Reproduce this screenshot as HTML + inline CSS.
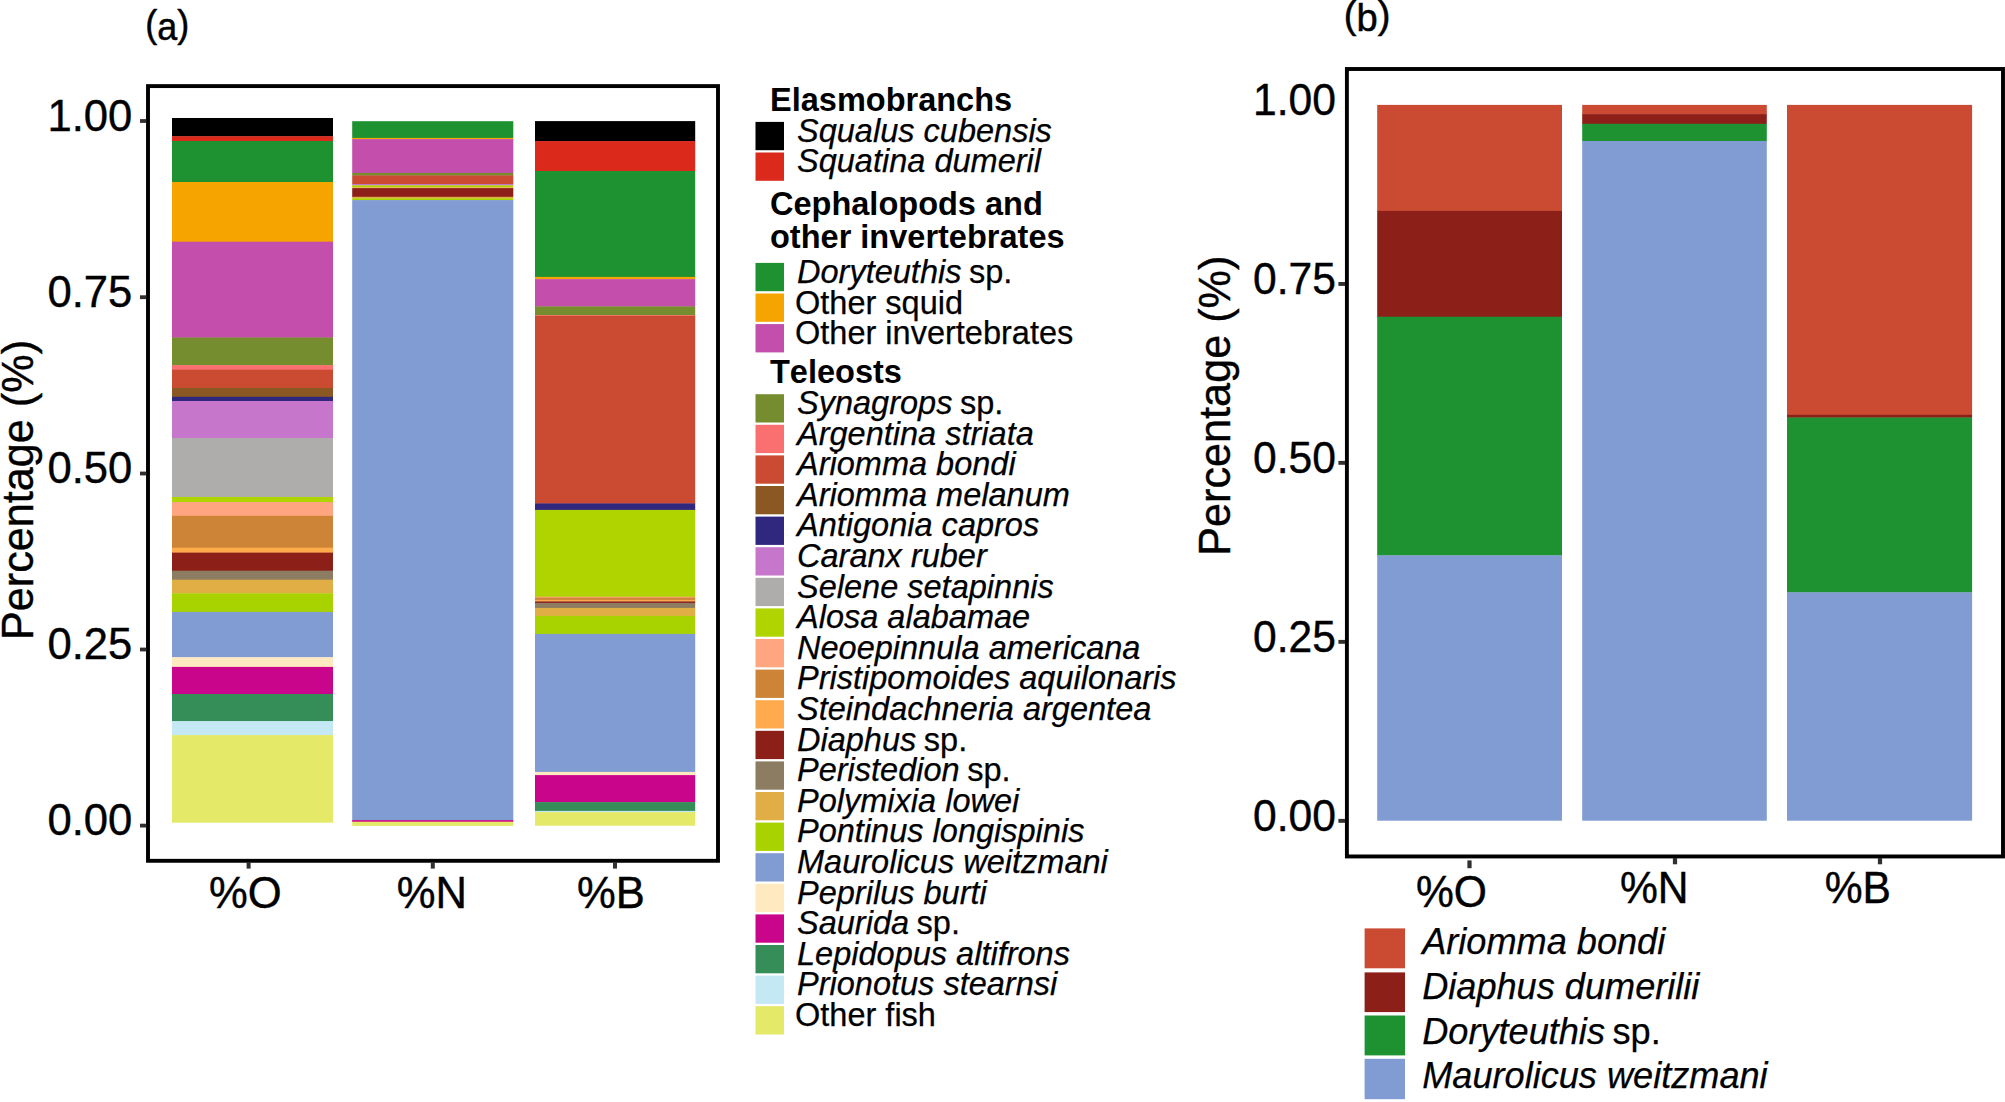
<!DOCTYPE html>
<html lang="en">
<head>
<meta charset="utf-8">
<title>Diet composition</title>
<style>
html,body{margin:0;padding:0;background:#fff;}
body{width:2005px;height:1102px;overflow:hidden;}
svg{display:block;}
svg text{font-family:"Liberation Sans",sans-serif;fill:#000;font-kerning:none;font-variant-ligatures:none;}
.ax text{stroke:#000;stroke-width:0.4px;}
.lg text{stroke:#000;stroke-width:0.25px;}
.lg text.hd{stroke:none;}
</style>
</head>
<body>
<svg width="2005" height="1102" viewBox="0 0 2005 1102" shape-rendering="auto">
<rect x="0" y="0" width="2005" height="1102" fill="#ffffff"/>
<g id="bars">
<rect x="172.0" y="118.0" width="161.0" height="18.55" fill="#000000"/>
<rect x="172.0" y="136.2" width="161.0" height="5.15" fill="#DB2A1C"/>
<rect x="172.0" y="141.0" width="161.0" height="41.35" fill="#1E9131"/>
<rect x="172.0" y="182.0" width="161.0" height="60.05" fill="#F5A400"/>
<rect x="172.0" y="241.7" width="161.0" height="96.15" fill="#C44EAB"/>
<rect x="172.0" y="337.5" width="161.0" height="27.95" fill="#758C2F"/>
<rect x="172.0" y="365.1" width="161.0" height="4.95" fill="#FA7070"/>
<rect x="172.0" y="369.7" width="161.0" height="18.55" fill="#CB4B32"/>
<rect x="172.0" y="387.9" width="161.0" height="9.25" fill="#8B5823"/>
<rect x="172.0" y="396.8" width="161.0" height="4.55" fill="#30277F"/>
<rect x="172.0" y="401.0" width="161.0" height="37.35" fill="#C777CB"/>
<rect x="172.0" y="438.0" width="161.0" height="59.35" fill="#AEADAB"/>
<rect x="172.0" y="497.0" width="161.0" height="5.35" fill="#AFD400"/>
<rect x="172.0" y="502.0" width="161.0" height="14.15" fill="#FFA680"/>
<rect x="172.0" y="515.8" width="161.0" height="32.25" fill="#CD8436"/>
<rect x="172.0" y="547.7" width="161.0" height="5.25" fill="#FFAB4D"/>
<rect x="172.0" y="552.6" width="161.0" height="18.45" fill="#8C2019"/>
<rect x="172.0" y="570.7" width="161.0" height="9.35" fill="#8C7D62"/>
<rect x="172.0" y="579.7" width="161.0" height="13.95" fill="#E0AE44"/>
<rect x="172.0" y="593.3" width="161.0" height="18.95" fill="#A9D300"/>
<rect x="172.0" y="611.9" width="161.0" height="45.65" fill="#809CD3"/>
<rect x="172.0" y="657.2" width="161.0" height="10.05" fill="#FFE9C1"/>
<rect x="172.0" y="666.9" width="161.0" height="27.45" fill="#C9058B"/>
<rect x="172.0" y="694.0" width="161.0" height="27.45" fill="#358E57"/>
<rect x="172.0" y="721.1" width="161.0" height="14.35" fill="#C4E8F4"/>
<rect x="172.0" y="735.1" width="161.0" height="87.60" fill="#E4E967"/>
<rect x="352.2" y="121.2" width="161.1" height="17.05" fill="#1E9131"/>
<rect x="352.2" y="137.9" width="161.1" height="1.55" fill="#F5A400"/>
<rect x="352.2" y="139.1" width="161.1" height="34.15" fill="#C44EAB"/>
<rect x="352.2" y="172.9" width="161.1" height="2.85" fill="#758C2F"/>
<rect x="352.2" y="175.4" width="161.1" height="8.95" fill="#CB4B32"/>
<rect x="352.2" y="184.0" width="161.1" height="1.65" fill="#C777CB"/>
<rect x="352.2" y="185.3" width="161.1" height="2.35" fill="#AFD400"/>
<rect x="352.2" y="187.3" width="161.1" height="1.15" fill="#FFAB4D"/>
<rect x="352.2" y="188.1" width="161.1" height="9.05" fill="#8C2019"/>
<rect x="352.2" y="196.8" width="161.1" height="1.85" fill="#E0AE44"/>
<rect x="352.2" y="198.3" width="161.1" height="2.15" fill="#A9D300"/>
<rect x="352.2" y="200.1" width="161.1" height="620.35" fill="#809CD3"/>
<rect x="352.2" y="820.1" width="161.1" height="1.95" fill="#C9058B"/>
<rect x="352.2" y="821.7" width="161.1" height="4.20" fill="#E4E967"/>
<rect x="535.0" y="121.1" width="160.2" height="20.35" fill="#000000"/>
<rect x="535.0" y="141.1" width="160.2" height="30.25" fill="#DB2A1C"/>
<rect x="535.0" y="171.0" width="160.2" height="106.25" fill="#1E9131"/>
<rect x="535.0" y="276.9" width="160.2" height="2.55" fill="#F5A400"/>
<rect x="535.0" y="279.1" width="160.2" height="27.65" fill="#C44EAB"/>
<rect x="535.0" y="306.4" width="160.2" height="9.05" fill="#758C2F"/>
<rect x="535.0" y="315.1" width="160.2" height="1.15" fill="#FA7070"/>
<rect x="535.0" y="315.9" width="160.2" height="187.85" fill="#CB4B32"/>
<rect x="535.0" y="503.4" width="160.2" height="6.85" fill="#30277F"/>
<rect x="535.0" y="509.9" width="160.2" height="87.15" fill="#AFD400"/>
<rect x="535.0" y="596.7" width="160.2" height="1.35" fill="#FFA680"/>
<rect x="535.0" y="597.7" width="160.2" height="2.55" fill="#CD8436"/>
<rect x="535.0" y="599.9" width="160.2" height="1.85" fill="#FFAB4D"/>
<rect x="535.0" y="601.4" width="160.2" height="1.85" fill="#8C2019"/>
<rect x="535.0" y="602.9" width="160.2" height="5.35" fill="#8C7D62"/>
<rect x="535.0" y="607.9" width="160.2" height="8.35" fill="#E0AE44"/>
<rect x="535.0" y="615.9" width="160.2" height="18.35" fill="#A9D300"/>
<rect x="535.0" y="633.9" width="160.2" height="138.35" fill="#809CD3"/>
<rect x="535.0" y="771.9" width="160.2" height="3.55" fill="#FFE9C1"/>
<rect x="535.0" y="775.1" width="160.2" height="27.35" fill="#C9058B"/>
<rect x="535.0" y="802.1" width="160.2" height="9.15" fill="#358E57"/>
<rect x="535.0" y="810.9" width="160.2" height="1.55" fill="#C4E8F4"/>
<rect x="535.0" y="812.1" width="160.2" height="13.60" fill="#E4E967"/>
<rect x="1377.2" y="104.9" width="184.8" height="106.35" fill="#CB4B32"/>
<rect x="1377.2" y="210.9" width="184.8" height="106.15" fill="#8C2019"/>
<rect x="1377.2" y="316.7" width="184.8" height="238.95" fill="#1E9131"/>
<rect x="1377.2" y="555.3" width="184.8" height="265.40" fill="#809CD3"/>
<rect x="1582.2" y="104.9" width="184.6" height="9.55" fill="#CB4B32"/>
<rect x="1582.2" y="114.1" width="184.6" height="10.05" fill="#8C2019"/>
<rect x="1582.2" y="123.8" width="184.6" height="17.55" fill="#1E9131"/>
<rect x="1582.2" y="141.0" width="184.6" height="679.70" fill="#809CD3"/>
<rect x="1787.0" y="104.9" width="185.1" height="310.25" fill="#CB4B32"/>
<rect x="1787.0" y="414.8" width="185.1" height="3.05" fill="#8C2019"/>
<rect x="1787.0" y="417.5" width="185.1" height="175.15" fill="#1E9131"/>
<rect x="1787.0" y="592.3" width="185.1" height="228.40" fill="#809CD3"/>
</g>
<g id="axes" class="ax">
<rect x="148" y="86.1" width="570" height="774.7" fill="none" stroke="#000" stroke-width="3.9"/>
<rect x="140" y="119.1" width="6.2" height="3.8" fill="#332f2d"/>
<text transform="translate(132.3,130.8) scale(1,1.01)" font-size="43.6" text-anchor="end">1.00</text>
<rect x="140" y="295.3" width="6.2" height="3.8" fill="#332f2d"/>
<text transform="translate(132.3,307.0) scale(1,1.01)" font-size="43.6" text-anchor="end">0.75</text>
<rect x="140" y="471.6" width="6.2" height="3.8" fill="#332f2d"/>
<text transform="translate(132.3,483.3) scale(1,1.01)" font-size="43.6" text-anchor="end">0.50</text>
<rect x="140" y="647.6" width="6.2" height="3.8" fill="#332f2d"/>
<text transform="translate(132.3,659.3) scale(1,1.01)" font-size="43.6" text-anchor="end">0.25</text>
<rect x="140" y="823.7" width="6.2" height="3.8" fill="#332f2d"/>
<text transform="translate(132.3,835.4) scale(1,1.01)" font-size="43.6" text-anchor="end">0.00</text>
<rect x="246.6" y="862" width="4" height="6.6" fill="#332f2d"/>
<text transform="translate(245.2,908.4) scale(1,1.02)" font-size="43.6" text-anchor="middle">%O</text>
<rect x="430.8" y="862" width="4" height="6.6" fill="#332f2d"/>
<text transform="translate(431.8,908.4) scale(1,1.02)" font-size="43.6" text-anchor="middle">%N</text>
<rect x="613.0" y="862" width="4" height="6.6" fill="#332f2d"/>
<text transform="translate(611.0,908.4) scale(1,1.02)" font-size="43.6" text-anchor="middle">%B</text>
<text transform="translate(33,490) rotate(-90) scale(1,1.04)" font-size="43.2" text-anchor="middle">Percentage (%)</text>
<text transform="translate(145.2,39.8) scale(0.91,1)" font-size="39.5" style="stroke-width:0.5px"><tspan dy="-3">(</tspan><tspan dy="3">a</tspan><tspan dy="-3">)</tspan></text>
<rect x="1346.9" y="69" width="656.1" height="787.45" fill="none" stroke="#000" stroke-width="3.9"/>
<text transform="translate(1336.0,114.8) scale(1,1.04)" font-size="42.6" text-anchor="end">1.00</text>
<rect x="1338.4" y="282.0" width="6.8" height="3.9" fill="#332f2d"/>
<text transform="translate(1336.0,293.7) scale(1,1.04)" font-size="42.6" text-anchor="end">0.75</text>
<rect x="1338.4" y="460.9" width="6.8" height="3.9" fill="#332f2d"/>
<text transform="translate(1336.0,472.6) scale(1,1.04)" font-size="42.6" text-anchor="end">0.50</text>
<rect x="1338.4" y="639.9" width="6.8" height="3.9" fill="#332f2d"/>
<text transform="translate(1336.0,651.6) scale(1,1.04)" font-size="42.6" text-anchor="end">0.25</text>
<rect x="1338.4" y="818.9" width="6.8" height="3.9" fill="#332f2d"/>
<text transform="translate(1336.0,830.6) scale(1,1.04)" font-size="42.6" text-anchor="end">0.00</text>
<rect x="1467.4" y="860.4" width="4.2" height="7.8" fill="#332f2d"/>
<text transform="translate(1451.3999999999999,906.9) scale(1,1.03)" font-size="42.6" text-anchor="middle">%O</text>
<rect x="1672.9" y="858" width="4.2" height="6.3" fill="#332f2d"/>
<text transform="translate(1654.3,903.2) scale(1,1.03)" font-size="42.6" text-anchor="middle">%N</text>
<rect x="1877.9" y="858" width="4.2" height="6.3" fill="#332f2d"/>
<text transform="translate(1857.8,903.2) scale(1,1.03)" font-size="42.6" text-anchor="middle">%B</text>
<text transform="translate(1230.4,405.7) rotate(-90) scale(1,1.04)" font-size="43.2" text-anchor="middle">Percentage (%)</text>
<text transform="translate(1343.8,31) scale(0.965,1)" font-size="39.5" style="stroke-width:0.5px"><tspan dy="-3">(</tspan><tspan dy="3">b</tspan><tspan dy="-3">)</tspan></text>
</g>
<g id="legend-a" class="lg">
<text x="770.0" y="110.8" font-size="32.52" font-weight="bold" class="hd">Elasmobranchs</text>
<rect x="755.5" y="121.9" width="28.5" height="28.3" fill="#000000"/>
<text x="797.0" y="142.0" font-size="32.52" font-style="italic">Squalus cubensis</text>
<rect x="755.5" y="152.5" width="28.5" height="28.3" fill="#DB2A1C"/>
<text x="797.0" y="172.4" font-size="32.52" font-style="italic">Squatina dumeril</text>
<text x="770.0" y="214.6" font-size="32.52" font-weight="bold" class="hd">Cephalopods and</text>
<text x="770.0" y="248.1" font-size="32.52" font-weight="bold" class="hd">other invertebrates</text>
<rect x="755.5" y="262.9" width="28.5" height="28.3" fill="#1E9131"/>
<text x="797.0" y="283.0" font-size="32.52"><tspan font-style="italic">Doryteuthis</tspan><tspan dx="-1.5"> sp.</tspan></text>
<rect x="755.5" y="293.5" width="28.5" height="28.3" fill="#F5A400"/>
<text x="795.0" y="313.6" font-size="32.52">Other squid</text>
<rect x="755.5" y="324.1" width="28.5" height="28.3" fill="#C44EAB"/>
<text x="795.0" y="344.2" font-size="32.52">Other invertebrates</text>
<text x="770.0" y="383.0" font-size="32.52" font-weight="bold" class="hd">Teleosts</text>
<rect x="755.5" y="394.2" width="28.5" height="28.3" fill="#758C2F"/>
<text x="797.0" y="413.9" font-size="32.52"><tspan font-style="italic">Synagrops</tspan><tspan dx="-1.5"> sp.</tspan></text>
<rect x="755.5" y="424.8" width="28.5" height="28.3" fill="#FA7070"/>
<text x="797.0" y="444.5" font-size="32.52" font-style="italic">Argentina striata</text>
<rect x="755.5" y="455.4" width="28.5" height="28.3" fill="#CB4B32"/>
<text x="797.0" y="475.1" font-size="32.52" font-style="italic">Ariomma bondi</text>
<rect x="755.5" y="486.0" width="28.5" height="28.3" fill="#8B5823"/>
<text x="797.0" y="505.7" font-size="32.52" font-style="italic">Ariomma melanum</text>
<rect x="755.5" y="516.6" width="28.5" height="28.3" fill="#30277F"/>
<text x="797.0" y="536.3" font-size="32.52" font-style="italic">Antigonia capros</text>
<rect x="755.5" y="547.2" width="28.5" height="28.3" fill="#C777CB"/>
<text x="797.0" y="566.9" font-size="32.52" font-style="italic">Caranx ruber</text>
<rect x="755.5" y="577.8" width="28.5" height="28.3" fill="#AEADAB"/>
<text x="797.0" y="597.5" font-size="32.52" font-style="italic">Selene setapinnis</text>
<rect x="755.5" y="608.4" width="28.5" height="28.3" fill="#AFD400"/>
<text x="797.0" y="628.1" font-size="32.52" font-style="italic">Alosa alabamae</text>
<rect x="755.5" y="639.0" width="28.5" height="28.3" fill="#FFA680"/>
<text x="797.0" y="658.7" font-size="32.52" font-style="italic">Neoepinnula americana</text>
<rect x="755.5" y="669.6" width="28.5" height="28.3" fill="#CD8436"/>
<text x="797.0" y="689.3" font-size="32.52" font-style="italic">Pristipomoides aquilonaris</text>
<rect x="755.5" y="700.2" width="28.5" height="28.3" fill="#FFAB4D"/>
<text x="797.0" y="719.9" font-size="32.52" font-style="italic">Steindachneria argentea</text>
<rect x="755.5" y="730.8" width="28.5" height="28.3" fill="#8C2019"/>
<text x="797.0" y="750.5" font-size="32.52"><tspan font-style="italic">Diaphus</tspan><tspan dx="-1.5"> sp.</tspan></text>
<rect x="755.5" y="761.4" width="28.5" height="28.3" fill="#8C7D62"/>
<text x="797.0" y="781.1" font-size="32.52"><tspan font-style="italic">Peristedion</tspan><tspan dx="-1.5"> sp.</tspan></text>
<rect x="755.5" y="792.0" width="28.5" height="28.3" fill="#E0AE44"/>
<text x="797.0" y="811.7" font-size="32.52" font-style="italic">Polymixia lowei</text>
<rect x="755.5" y="822.6" width="28.5" height="28.3" fill="#A9D300"/>
<text x="797.0" y="842.3" font-size="32.52" font-style="italic">Pontinus longispinis</text>
<rect x="755.5" y="853.2" width="28.5" height="28.3" fill="#809CD3"/>
<text x="797.0" y="872.9" font-size="32.52" font-style="italic">Maurolicus weitzmani</text>
<rect x="755.5" y="883.8" width="28.5" height="28.3" fill="#FFE9C1"/>
<text x="797.0" y="903.5" font-size="32.52" font-style="italic">Peprilus burti</text>
<rect x="755.5" y="914.4" width="28.5" height="28.3" fill="#C9058B"/>
<text x="797.0" y="934.1" font-size="32.52"><tspan font-style="italic">Saurida</tspan><tspan dx="-1.5"> sp.</tspan></text>
<rect x="755.5" y="945.0" width="28.5" height="28.3" fill="#358E57"/>
<text x="797.0" y="964.7" font-size="32.52" font-style="italic">Lepidopus altifrons</text>
<rect x="755.5" y="975.6" width="28.5" height="28.3" fill="#C4E8F4"/>
<text x="797.0" y="995.3" font-size="32.52" font-style="italic">Prionotus stearnsi</text>
<rect x="755.5" y="1006.2" width="28.5" height="28.3" fill="#E4E967"/>
<text x="795.0" y="1025.9" font-size="32.52">Other fish</text>
</g>
<g id="legend-b" class="lg">
<rect x="1364.6" y="928.4" width="40.4" height="39.9" fill="#CB4B32"/>
<text x="1422.2" y="953.8" font-size="36.15" font-style="italic">Ariomma bondi</text>
<rect x="1364.6" y="972.4" width="40.4" height="39.7" fill="#8C2019"/>
<text x="1422.2" y="999.3" font-size="36.15" font-style="italic">Diaphus dumerilii</text>
<rect x="1364.6" y="1015.5" width="40.4" height="39.9" fill="#1E9131"/>
<text x="1422.2" y="1044.0" font-size="36.15"><tspan font-style="italic">Doryteuthis</tspan><tspan dx="-2.5"> sp.</tspan></text>
<rect x="1364.6" y="1058.8" width="40.4" height="40.4" fill="#809CD3"/>
<text x="1422.2" y="1087.7" font-size="36.15" font-style="italic">Maurolicus weitzmani</text>
</g>
</svg>
</body>
</html>
